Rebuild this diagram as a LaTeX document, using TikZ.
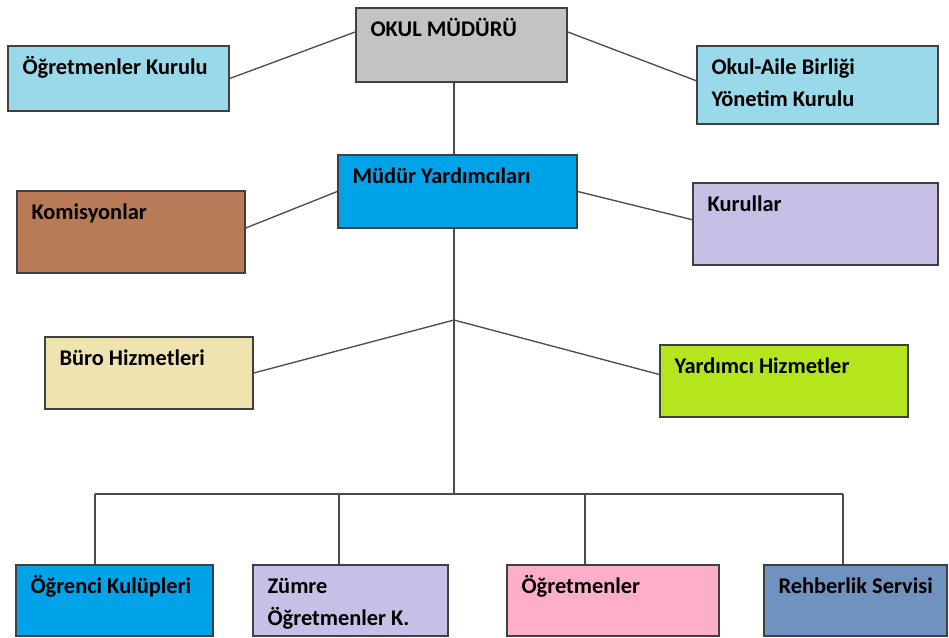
\documentclass[tikz,border=0pt]{standalone}
\usepackage{fontspec}
\setmainfont{Carlito}
\definecolor{headgray}{RGB}{195, 195, 195}
\definecolor{boardsky}{RGB}{153, 217, 234}
\definecolor{deptblue}{RGB}{0, 162, 232}
\definecolor{commbrown}{RGB}{185, 122, 87}
\definecolor{councillav}{RGB}{200, 191, 231}
\definecolor{officetan}{RGB}{239, 228, 176}
\definecolor{servlime}{RGB}{181, 230, 29}
\definecolor{teachpink}{RGB}{255, 174, 201}
\definecolor{guidesteel}{RGB}{112, 146, 190}
\usetikzlibrary{positioning, fit}

\begin{document}
\begin{tikzpicture}[x=0.75pt, y=-0.75pt,
  unit/.style={draw=black!75, line width=1.1pt, inner sep=0pt},
  caption/.style={anchor=base west, inner sep=0pt, xshift=11.25pt, yshift=-21.75pt,
    align=left, font=\fontsize{16.8}{24}\selectfont\bfseries},
  caption two/.style={caption, yshift=-24pt},
  link/.style={draw=black!70, line width=1pt}]
  \useasboundingbox (0,0) rectangle (949,637);

  % top level
  \node[unit, fill=headgray, fit={(356,8) (567,82)},
    label={[caption]north west:OKUL MÜDÜRÜ}] (okul) {};
  \node[unit, fill=boardsky, fit={(8,46) (229,111)},
    label={[caption]north west:Öğretmenler Kurulu}] (ogkurul) {};
  \node[unit, fill=boardsky, fit={(697,46) (938,124)},
    label={[caption two]north west:Okul-Aile Birliği\\Yönetim Kurulu}] (oab) {};

  % assistants
  \node[unit, fill=deptblue, fit={(338,155) (577,228)},
    label={[caption]north west:Müdür Yardımcıları}] (myard) {};
  \node[unit, fill=commbrown, fit={(17,191) (245,273)},
    label={[caption]north west:Komisyonlar}] (komis) {};
  \node[unit, fill=councillav, fit={(693,183) (938,265)},
    label={[caption]north west:Kurullar}] (kurul) {};

  % services
  \node[unit, fill=officetan, fit={(45,337) (253,409)},
    label={[caption]north west:Büro Hizmetleri}] (buro) {};
  \node[unit, fill=servlime, fit={(660,345) (908,417)},
    label={[caption]north west:Yardımcı Hizmetler}] (yardh) {};

  % bottom row
  \node[unit, fill=deptblue, fit={(16,565) (213,636)},
    label={[caption]north west:Öğrenci Kulüpleri}] (kulup) {};
  \node[unit, fill=councillav, fit={(253,565) (448,636)},
    label={[caption two]north west:Zümre\\Öğretmenler K.}] (zumre) {};
  \node[unit, fill=teachpink, fit={(507,565) (719,636)},
    label={[caption]north west:Öğretmenler}] (ogretmen) {};
  \node[unit, fill=guidesteel, fit={(764,565) (947,636)},
    label={[caption]north west:Rehberlik Servisi}] (rehber) {};

  \coordinate (fork) at (454,320);
  \coordinate (bus) at (454,494);
  \coordinate (d1) at (95,494);
  \coordinate (d2) at (339,494);
  \coordinate (d3) at (585,494);
  \coordinate (d4) at (843,494);

  % connectors
  \draw[link] (okul.173) -- (ogkurul.east);
  \draw[link] (okul.7) -- (oab.178);
  \draw[link] (fork |- okul.south) -- (fork |- myard.north);
  \draw[link] (myard.west) -- (komis.2);
  \draw[link] (myard.east) -- (kurul.178);
  \draw[link] (fork |- myard.south) -- (fork) -- (bus);
  \draw[link] (fork) -- (buro.east);
  \draw[link] (fork) -- (yardh.177);
  \draw[link] (d1) -- (d4);
  \foreach \d/\unitname in {d1/kulup, d2/zumre, d3/ogretmen, d4/rehber}
    \draw[link] (\d) -- (\d |- \unitname.north);
\end{tikzpicture}
\end{document}
